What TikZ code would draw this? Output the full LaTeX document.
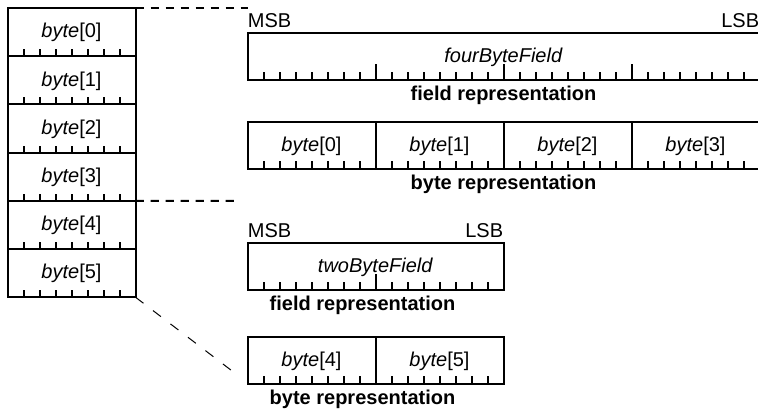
\documentclass[tikz,border=0pt]{standalone}
\usepackage{fontspec}
\setmainfont{Liberation Sans}
\usetikzlibrary{positioning}

\tikzset{
  cell/.style={draw, line width=1pt, outer sep=0pt, inner sep=0pt,
    minimum width=64pt, minimum height=24.1pt, text depth=1.5pt},
  field/.style={draw, line width=1pt, outer sep=0pt, inner sep=0pt,
    minimum height=23.5pt, text depth=1pt},
  caption/.style={font=\bfseries, inner sep=2pt},
  tick/.style={line width=1pt},
  link/.style={line width=1pt, dash pattern=on 4.2pt off 3.3pt},
  thinlink/.style={line width=0.5pt, dash pattern=on 5pt off 6pt},
}

\begin{document}
\begin{tikzpicture}[x=0.5pt, y=-0.5pt, font=\fontsize{10}{12}\selectfont]
  %\draw[help lines] (0,0) grid (758,408);
  \useasboundingbox (0,0) rectangle (758,408);

  % memory column
  \foreach \i in {0,...,5}
    \node[cell] (c\i) at (71.5, 32.1+48.2*\i) {\textit{byte}[\i]};
  \foreach \i in {0,...,5}
    \foreach \k in {1,...,7}
      \draw[tick] (c\i.south west) ++(16*\k,0) -- ++(0,-7);

  % four byte field
  \node[field, minimum width=256pt] (f4) at (503.5, 56.5) {\textit{fourByteField}};
  \node[anchor=south west, inner sep=0pt] (msb4) at ([yshift=2.5pt]f4.north west) {MSB};
  \node[anchor=south east, inner sep=0pt] (lsb4) at ([yshift=2.5pt]f4.north east) {LSB};
  \foreach \k in {1,...,31}
    \draw[tick] (f4.south west) ++(16*\k,0) -- ++(0,-8);
  \foreach \k in {1,2,3}
    \draw[tick] (f4.south west) ++(128*\k,0) -- ++(0,-16);
  \node[caption, below=1pt of f4] (cap4) {field representation};

  \foreach \i in {0,...,3}
    \node[field, minimum width=64pt] (r\i) at (311.5+128*\i, 145.5) {\textit{byte}[\i]};
  \foreach \i in {0,...,3}
    \foreach \k in {1,...,7}
      \draw[tick] (r\i.south west) ++(16*\k,0) -- ++(0,-8);
  \node[caption, below=1pt of r1.south east] (capr) {byte representation};

  % two byte field
  \node[field, minimum width=128pt] (f2) at (375.5, 266.5) {\textit{twoByteField}};
  \node[anchor=south west, inner sep=0pt] (msb2) at ([yshift=2.5pt]f2.north west) {MSB};
  \node[anchor=south east, inner sep=0pt] (lsb2) at ([yshift=2.5pt]f2.north east) {LSB};
  \foreach \k in {1,...,15}
    \draw[tick] (f2.south west) ++(16*\k,0) -- ++(0,-8);
  \draw[tick] (f2.south west) ++(128,0) -- ++(0,-16);
  \node[caption, below=1pt of f2.south, xshift=-6.5pt] (cap2) {field representation};

  \foreach \i in {4,5}
    \node[field, minimum width=64pt] (s\i) at (311.5+128*\i-512, 360) {\textit{byte}[\i]};
  \foreach \i in {4,5}
    \foreach \k in {1,...,7}
      \draw[tick] (s\i.south west) ++(16*\k,0) -- ++(0,-8);
  \node[caption, below=1pt of s4.south east, xshift=-6.5pt] (caps) {byte representation};

  % zoom lines
  \coordinate (topend) at (248,8);
  \coordinate (midend) at (240,201);
  \coordinate (lowend) at (240,377);
  \draw[link] (c0.north east) -- (topend);
  \draw[link] (c4.north east) -- (midend);
  \draw[thinlink] (c5.south east) -- (lowend);
\end{tikzpicture}
\end{document}
